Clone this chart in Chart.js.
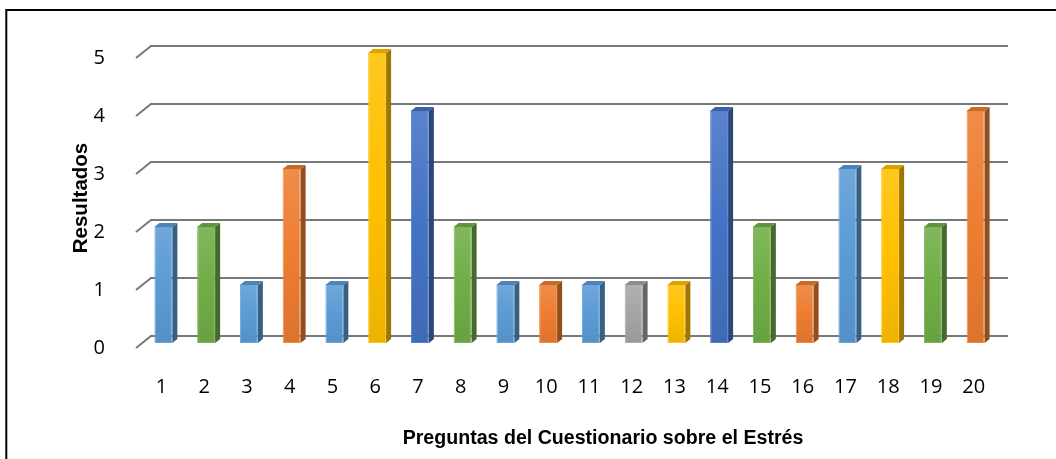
<!DOCTYPE html>
<html>
<head>
<meta charset="utf-8">
<title>Preguntas del Cuestionario sobre el Estrés</title>
<script src="https://cdn.jsdelivr.net/npm/chart.js@4.4.1/dist/chart.umd.min.js"></script>
<style>
    html, body { margin: 0; padding: 0; background: #fff; }
    #wrap { position: relative; width: 1056px; height: 459px; }
</style>
</head>
<body>
<div id="wrap"><canvas id="grafico"></canvas></div>
<script>
// datos del gráfico
var preguntas = ['1', '2', '3', '4', '5', '6', '7', '8', '9', '10',
                 '11', '12', '13', '14', '15', '16', '17', '18', '19', '20'];
var resultados = [2, 2, 1, 3, 1, 5, 4, 2, 1, 1, 1, 1, 1, 4, 2, 1, 3, 3, 2, 4];
var ticksY = [0, 1, 2, 3, 4, 5];
var tituloY = 'Resultados';
var tituloX = 'Preguntas del Cuestionario sobre el Estrés';

// colores de cada barra (paleta de Office)
var azul = '#5B9BD5', verde = '#70AD47', naranja = '#ED7D31',
    oro = '#FFC000', azulOscuro = '#4472C4', gris = '#A5A5A5';
var coloresBarra = [azul, verde, azul, naranja, azul, oro, azulOscuro, verde, azul, naranja,
                    azul, gris, oro, azulOscuro, verde, naranja, azul, oro, verde, naranja];

var fuenteTexto = "'Open Sans', 'Liberation Sans', sans-serif";
var fuenteTitulo = "'Liberation Sans', 'DejaVu Sans', sans-serif";

// aclara (f > 0) u oscurece (f < 0) un color
function shade(hex, f) {
    var n = parseInt(hex.slice(1), 16);
    var r = n >> 16, g = (n >> 8) & 255, b = n & 255;
    var t = f < 0 ? 0 : 255, p = Math.abs(f);
    r = Math.round((t - r) * p + r);
    g = Math.round((t - g) * p + g);
    b = Math.round((t - b) * p + b);
    return 'rgb(' + r + ',' + g + ',' + b + ')';
}

// profundidad de las barras
var prof = { dx: 5, dy: 4 };

var efecto3D = {
    id: 'efecto3D',
    beforeDraw: function (chart) {
        var ctx = chart.ctx;
        ctx.save();
        ctx.fillStyle = '#fff';
        ctx.fillRect(0, 0, chart.width, chart.height);
        ctx.restore();
    },
    beforeDatasetsDraw: function (chart) {
        // líneas de la cuadrícula en la pared del fondo
        var ctx = chart.ctx, area = chart.chartArea, escala = chart.scales.y;
        ctx.save();
        ctx.strokeStyle = '#787878';
        ctx.lineWidth = 2;
        ticksY.forEach(function (v) {
            var py = escala.getPixelForValue(v);
            ctx.beginPath();
            ctx.moveTo(area.left - 6, py + 5);
            ctx.lineTo(area.left + 9, py - 7);
            ctx.lineTo(area.right + 11, py - 7);
            ctx.stroke();
        });
        ctx.restore();
    },
    afterDatasetsDraw: function (chart) {
        var ctx = chart.ctx, meta = chart.getDatasetMeta(0);
        ctx.save();
        meta.data.forEach(function (bar, i) {
            var c = coloresBarra[i];
            var xl = bar.x - bar.width / 2, xr = bar.x + bar.width / 2;
            var top = bar.y, base = bar.base;
            // cara lateral
            ctx.fillStyle = shade(c, -0.38);
            ctx.beginPath();
            ctx.moveTo(xr, top);
            ctx.lineTo(xr + prof.dx, top - prof.dy);
            ctx.lineTo(xr + prof.dx, base - prof.dy);
            ctx.lineTo(xr, base);
            ctx.closePath();
            ctx.fill();
            // cara superior
            ctx.fillStyle = shade(c, -0.15);
            ctx.beginPath();
            ctx.moveTo(xl, top);
            ctx.lineTo(xl + prof.dx, top - prof.dy);
            ctx.lineTo(xr + prof.dx, top - prof.dy);
            ctx.lineTo(xr, top);
            ctx.closePath();
            ctx.fill();
        });
        ctx.restore();
    },
    afterDraw: function (chart) {
        var ctx = chart.ctx;
        ctx.save();
        // marco del gráfico
        ctx.strokeStyle = '#000';
        ctx.lineWidth = 2;
        ctx.beginPath();
        ctx.moveTo(6.3, chart.height);
        ctx.lineTo(6.3, 10);
        ctx.lineTo(chart.width, 10);
        ctx.stroke();
        // título del eje x
        ctx.fillStyle = '#000';
        ctx.font = 'bold 19.6px ' + fuenteTitulo;
        ctx.textAlign = 'center';
        ctx.textBaseline = 'alphabetic';
        ctx.fillText(tituloX, 603, 444);
        ctx.restore();
    }
};

var ctx = document.getElementById('grafico').getContext('2d');

var grafico = new Chart(ctx, {
    type: 'bar',
    data: {
        labels: preguntas,
        datasets: [{
            label: tituloY,
            data: resultados,
            backgroundColor: function (c) {
                var color = coloresBarra[c.dataIndex];
                var area = c.chart.chartArea;
                if (!area) return color;
                var y = c.chart.scales.y;
                var g = c.chart.ctx.createLinearGradient(0, y.getPixelForValue(resultados[c.dataIndex]), 0, y.getPixelForValue(0));
                g.addColorStop(0, shade(color, 0.12));
                g.addColorStop(0.5, color);
                g.addColorStop(1, shade(color, -0.07));
                return g;
            },
            borderColor: function (c) { return shade(coloresBarra[c.dataIndex], 0.1); },
            borderWidth: 1,
            borderSkipped: false,
            barPercentage: 0.42,
            categoryPercentage: 1
        }]
    },
    options: {
        responsive: true,
        maintainAspectRatio: false,
        devicePixelRatio: 1,
        animation: false,
        layout: {
            padding: { left: 0, top: 53, right: 59, bottom: 0 }
        },
        plugins: {
            legend: { display: false },
            tooltip: { enabled: false }
        },
        scales: {
            x: {
                grid: { display: false },
                border: { display: false },
                ticks: {
                    color: '#000',
                    font: { family: fuenteTexto, size: 20 },
                    padding: 24,
                    labelOffset: -2,
                    maxRotation: 0
                },
                afterFit: function (scale) { scale.height = 116; }
            },
            y: {
                min: 0,
                max: 5,
                grid: { display: false },
                border: { display: false },
                ticks: {
                    stepSize: 1,
                    color: '#000',
                    font: { family: fuenteTexto, size: 20 },
                    padding: 29,
                    labelOffset: 5
                },
                title: {
                    display: true,
                    text: tituloY,
                    color: '#000',
                    font: { family: fuenteTitulo, size: 20.5, weight: 'bold' },
                    padding: { top: 69, bottom: 0 }
                },
                afterFit: function (scale) { scale.width = 142; }
            }
        }
    },
    plugins: [efecto3D]
});
</script>
</body>
</html>
